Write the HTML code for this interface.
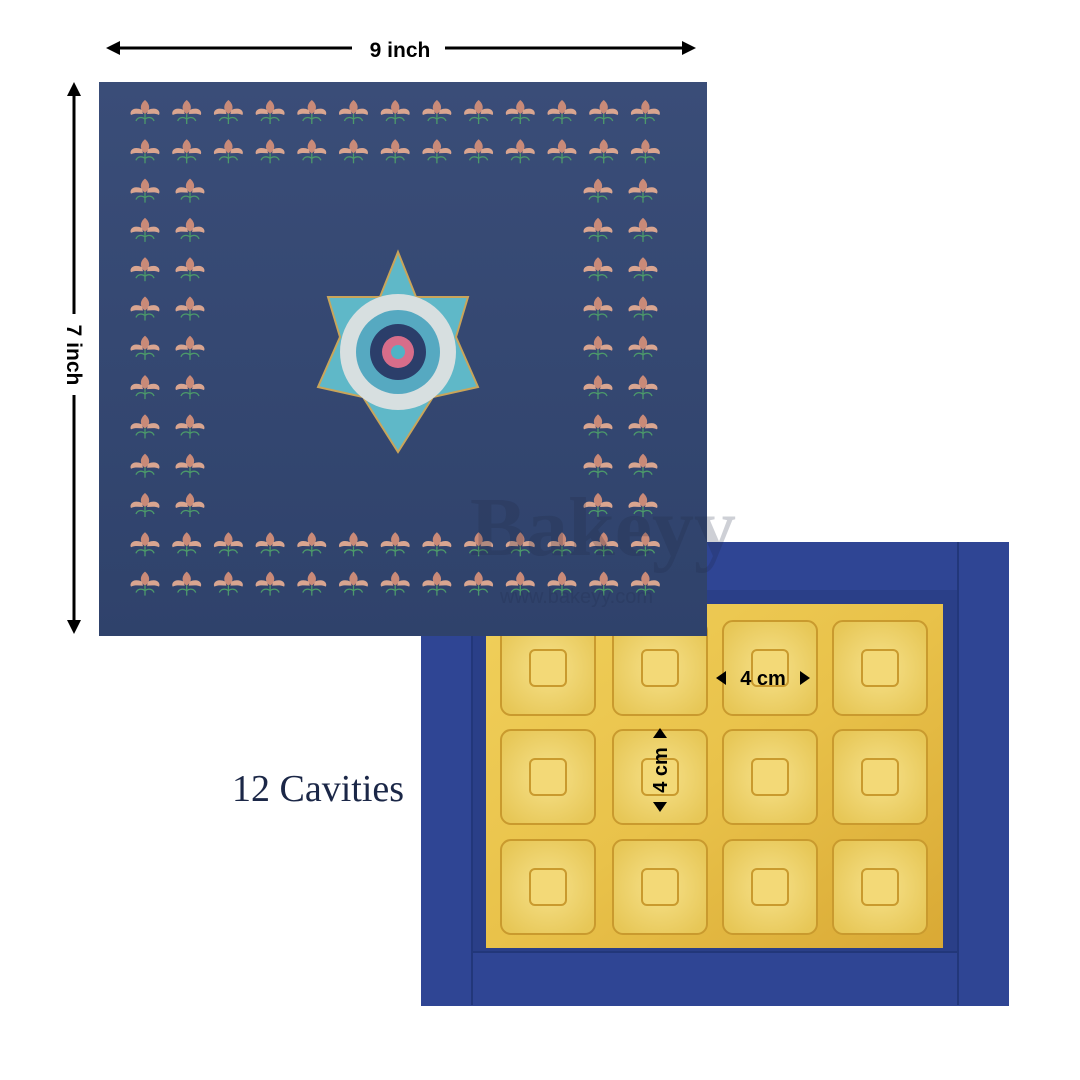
<!DOCTYPE html>
<html><head><meta charset="utf-8"><style>
html,body{margin:0;padding:0;background:#fff;width:1080px;height:1080px;overflow:hidden;font-family:"Liberation Sans",sans-serif}
.a{position:absolute}
</style></head><body>
<svg class="a" style="left:0;top:0" width="1080" height="1080" viewBox="0 0 1080 1080">
<defs>
<linearGradient id="lid" x1="0" y1="0" x2="0" y2="1"><stop offset="0" stop-color="#3a4d78"/><stop offset="1" stop-color="#2f426b"/></linearGradient>
<linearGradient id="gold" x1="0" y1="0" x2="1" y2="1"><stop offset="0" stop-color="#f0cf5a"/><stop offset="0.5" stop-color="#e9c24a"/><stop offset="1" stop-color="#d9a935"/></linearGradient>
<radialGradient id="cav" cx="0.5" cy="0.5" r="0.6"><stop offset="0" stop-color="#f6e18a"/><stop offset="1" stop-color="#e7c757"/></radialGradient>
<g id="m">
<path d="M0,-12 C5,-8 6,-2 0,2 C-6,-2 -5,-8 0,-12Z" fill="#c98a78"/>
<path d="M-3,-2 C-12,-6 -16,0 -14,3 C-10,1 -6,2 -2,2Z" fill="#d9a590"/>
<path d="M3,-2 C12,-6 16,0 14,3 C10,1 6,2 2,2Z" fill="#d9a590"/>
<path d="M0,2 L0,12" stroke="#4c9a6a" stroke-width="1.3"/>
<path d="M0,7 C-4,4 -8,6 -9,9 M0,7 C4,4 8,6 9,9" stroke="#4c9a6a" stroke-width="1.3" fill="none"/>
</g>
</defs>
<rect x="421" y="542" width="588" height="464" fill="#2f4594"/>
<rect x="472" y="590" width="486" height="362" fill="#2a3f88"/>
<rect x="486" y="604" width="457" height="344" fill="url(#gold)"/>
<line x1="472" y1="952" x2="958" y2="952" stroke="#22377a" stroke-width="2"/>
<line x1="958" y1="542" x2="958" y2="1005" stroke="#22377a" stroke-width="2"/>
<line x1="472" y1="590" x2="472" y2="1005" stroke="#22377a" stroke-width="2"/>
<g id="cavs"></g>
<rect x="99" y="82" width="608" height="554" fill="url(#lid)"/>
<g id="mot"></g>
<g transform="translate(398,352)">
<polygon points="0,-100 18,-55 70,-55 58,-15 80,35 35,45 0,100 -35,45 -80,35 -58,-15 -70,-55 -18,-55" fill="#5fb8c8" stroke="#c9a55a" stroke-width="2"/>
<circle r="58" fill="#d7dfe0"/>
<circle r="42" fill="#56a9c1"/>
<circle r="28" fill="#2b3e6a"/>
<circle r="16" fill="#d76d8a"/>
<circle r="7" fill="#4fb3c5"/>
</g>
<text x="470" y="555" font-family="Liberation Serif,serif" font-size="84" font-weight="bold" fill="#1e2a44" fill-opacity="0.22">Bakeyy</text>
<text x="500" y="603" font-size="20" fill="#1e2a44" fill-opacity="0.2">www.bakeyy.com</text>
<g stroke="#000" stroke-width="3" fill="none">
<line x1="112" y1="48" x2="352" y2="48"/><line x1="445" y1="48" x2="688" y2="48"/>
<line x1="74" y1="90" x2="74" y2="314"/><line x1="74" y1="395" x2="74" y2="626"/>
</g>
<g fill="#000">
<polygon points="106,48 120,41 120,55"/><polygon points="696,48 682,41 682,55"/>
<polygon points="74,82 67,96 81,96"/><polygon points="74,634 67,620 81,620"/>
<polygon points="716,678 726,671 726,685"/><polygon points="810,678 800,671 800,685"/>
<polygon points="660,728 653,738 667,738"/><polygon points="660,812 653,802 667,802"/>
</g>
<text x="400" y="57" text-anchor="middle" font-size="21" font-weight="bold">9 inch</text>
<text transform="translate(67,355) rotate(90)" text-anchor="middle" font-size="21" font-weight="bold">7 inch</text>
<text x="232" y="801" font-family="Liberation Serif,serif" font-size="38" fill="#1b2747">12 Cavities</text>
<text x="763" y="685" text-anchor="middle" font-size="20" font-weight="bold">4 cm</text>
<text transform="translate(667,770) rotate(-90)" text-anchor="middle" font-size="20" font-weight="bold">4 cm</text>
</svg>
<script>
var ns="http://www.w3.org/2000/svg",mot=document.getElementById("mot"),cav=document.getElementById("cavs");
function u(x,y){var e=document.createElementNS(ns,"use");e.setAttribute("href","#m");e.setAttribute("x",x);e.setAttribute("y",y);mot.appendChild(e);}
var xs=[],i;for(i=0;i<13;i++)xs.push(145+i*41.7);
var ys=[];for(i=0;i<13;i++)ys.push(112+i*39.3);
xs.forEach(function(x){u(x,ys[0]);u(x,ys[1]);u(x,ys[11]);u(x,ys[12]);});
for(i=2;i<11;i++){u(145,ys[i]);u(190,ys[i]);u(598,ys[i]);u(643,ys[i]);}
[548,660,770,880].forEach(function(cx){[668,777,887].forEach(function(cy){
 var r=document.createElementNS(ns,"rect");r.setAttribute("x",cx-47);r.setAttribute("y",cy-47);r.setAttribute("width",94);r.setAttribute("height",94);r.setAttribute("rx",10);r.setAttribute("fill","url(#cav)");r.setAttribute("stroke","#c99a2e");r.setAttribute("stroke-width","2");cav.appendChild(r);
 var s=document.createElementNS(ns,"rect");s.setAttribute("x",cx-18);s.setAttribute("y",cy-18);s.setAttribute("width",36);s.setAttribute("height",36);s.setAttribute("rx",5);s.setAttribute("fill","#f3d977");s.setAttribute("stroke","#c99a2e");s.setAttribute("stroke-width","2");cav.appendChild(s);
});});
</script>
</body></html>
